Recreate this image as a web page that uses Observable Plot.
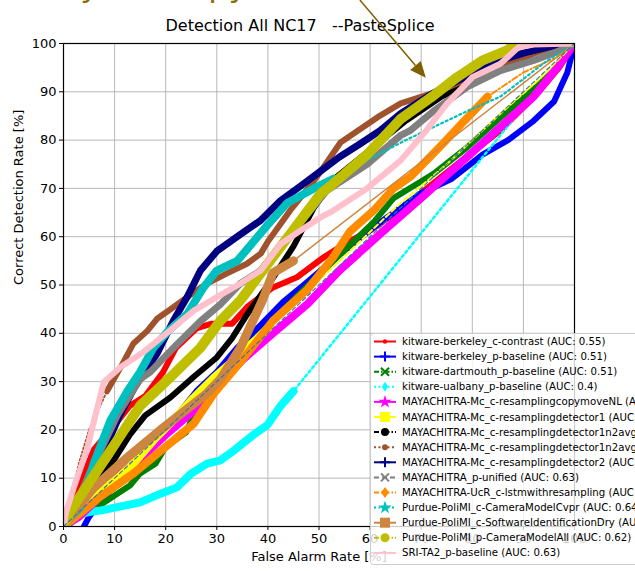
<!DOCTYPE html>
<html><head><meta charset="utf-8">
<script src="https://cdn.jsdelivr.net/npm/d3@7"></script>
<script src="https://cdn.jsdelivr.net/npm/@observablehq/plot@0.6"></script>
<style>
html,body{margin:0;padding:0;background:#fff;}
#chart svg{display:block;}
</style>
</head><body><div id="chart"></div>
<script>
// ---------- data ----------
const xTicks = [0,10,20,30,40,50,60,70,80,90,100];
const yTicks = [0,10,20,30,40,50,60,70,80,90,100];
const titleText = "Detection All NC17   --PasteSplice";
const xLabel = "False Alarm Rate [%]";
const yLabel = "Correct Detection Rate [%]";
const annotationText = "may the copymove detector";
const arrowFrom = [58.1, 108.9];
const arrowTo = [71.0, 92.8];

const seriesLabels = [
  "kitware-berkeley_c-contrast (AUC: 0.55)",
  "kitware-berkeley_p-baseline (AUC: 0.51)",
  "kitware-dartmouth_p-baseline (AUC: 0.51)",
  "kitware-ualbany_p-baseline (AUC: 0.4)",
  "MAYACHITRA-Mc_c-resamplingcopymoveNL (AUC: 0.5)",
  "MAYACHITRA-Mc_c-resamplingdetector1 (AUC: 0.53)",
  "MAYACHITRA-Mc_c-resamplingdetector1n2avg (AUC: 0.6)",
  "MAYACHITRA-Mc_c-resamplingdetector1n2avgfused (AUC: 0.66)",
  "MAYACHITRA-Mc_c-resamplingdetector2 (AUC: 0.66)",
  "MAYACHITRA_p-unified (AUC: 0.63)",
  "MAYACHITRA-UcR_c-lstmwithresampling (AUC: 0.55)",
  "Purdue-PoliMI_c-CameraModelCvpr (AUC: 0.64)",
  "Purdue-PoliMI_c-SoftwareIdentificationDry (AUC: 0.6)",
  "Purdue-PoliMI_p-CameraModelAll (AUC: 0.62)",
  "SRI-TA2_p-baseline (AUC: 0.63)"
];

// [false alarm rate, correct detection rate]
const berkeleyContrast = [[0,0],[2,6],[4,11],[6,16],[8,18.5],[10,21],[13,25],[16,27],[19.5,32],[22,37],[26,41],[29,42],[33,42],[36,45.5],[41,49.5],[45.7,51.6],[51,55.8],[55,58.5],[60,61.3],[65,65],[69,68.2],[77,75],[85.5,82],[93,90],[97,95],[100,100]];
const berkeleyBaseline = [[4,0],[5,2],[8,6],[12,11],[16,15],[20,20],[26,28],[30,32],[34,37],[37,40],[43,46.5],[47,50],[51,53.6],[56,58],[62,63],[70,69],[76,72],[82,77],[87,80],[92,84],[96,88],[98.6,94],[100,100]];
const dartmouthBaseline = [[0,0],[3,2],[8,5],[13,8.5],[15,11],[18,13],[20,16.5],[24,19.5],[25,22],[26,25.5],[28,28],[30,31],[35,36],[40,41.5],[46,48],[53.6,55.8],[60.7,63],[64.6,68],[68.5,70.5],[72.4,73],[79,78.5],[85.5,84.7],[93.3,91.7],[97.3,95.8],[100,100]];
const ualbanyBaseline = [[1,0],[1.5,1.5],[3,2.5],[5,3],[7.2,3.3],[10.5,4],[15,5],[19,6.8],[22.2,8.1],[24.9,10.9],[28.1,13],[30.7,13.7],[33.3,15.7],[37.2,19],[39.9,21],[42.5,25],[45,28],[100,100]];
const copymoveNL = [[0,0],[3,2],[6,5],[10,10],[15,14],[20,19],[25,23.5],[30,29],[35,34.5],[41,40],[47.7,46],[54,53],[62,60.6],[70,68],[79,76.5],[85.5,82.7],[92,89],[96.6,95],[100,100]];
const detector1 = [[0,0],[2,3],[5,6],[10,9.5],[13.7,13],[17.6,17.8],[21.5,22],[25.5,26.7],[29.4,30.8],[33.3,34.4],[36,37],[40,41],[45,46],[55,56],[65,66],[75,75],[85,85],[93,92.5],[100,100]];
const detector1n2avg = [[0,0],[3,4],[6,8],[10,14],[13,19],[16,23],[20.9,26.7],[25.5,31],[30,35],[33,39],[36,44],[41,51.5],[45,58],[49,66],[53,72],[60,78],[67,84],[74,89],[80,92],[87,95.5],[93,98.5],[100,100]];
const detector1n2avgB = [[0,0],[1,4],[3,13],[5,20],[8.5,28],[11.2,33],[13.7,37.9],[16.4,40.5],[18.3,43],[21.5,45.4],[24.2,47.5],[28.1,50.3],[32,52.4],[35.9,54.4],[38.6,56.5],[40,59],[44.4,65.5],[49,71.5],[54.2,79.5],[61.4,84.7],[66,87.6],[73,90],[80,93],[88,96.5],[95,99],[100,100]];
const detector2 = [[0,0],[3,5],[6,11],[8.5,17],[11,23],[14,29],[18.3,35.8],[21.5,42.6],[24.2,47.5],[26.8,53],[30,57],[34,60],[38.6,63.4],[42.5,67.5],[46.4,70.5],[49.6,73],[54,76.5],[58,79.2],[62,82],[66,85.5],[72,89.5],[76,91.7],[84,96],[90,98],[95,99.3],[100,100]];
const unified = [[0,0],[3,6],[6,13],[10.5,23],[15,30.5],[17,32],[22,37.5],[26.8,42.5],[30.7,46],[34.6,50.3],[38.6,53],[42,57.5],[46.4,63],[50.3,68],[51.6,69.6],[59.4,75],[66,81],[67.9,82],[72.4,86],[79,91],[85.5,94.4],[92,96.5],[97.3,98.6],[100,100]];
const lstm = [[0,0],[3,2.5],[7,6],[13.7,11],[20,16.5],[25.5,21.3],[29.4,27.5],[34.6,34],[41,42.6],[47.7,49],[52.8,55.8],[56,61],[60.7,65.4],[64.6,70],[68,72.5],[74,79],[78,83.5],[83,89],[90,94],[96.6,97.2],[100,100]];
const cameraModelCvpr = [[0,0],[1.5,2],[3.3,4],[5.9,13],[9.2,22],[12.5,28],[15,32],[17.6,37],[20.5,40.5],[24.2,44],[27.4,49.5],[30,53],[34,55],[37.2,59],[40,62.5],[43.8,67],[49,70],[52.8,72],[56,74],[67,80],[79,86],[85.5,89],[94.7,96.5],[100,100]];
const softwareIdDry = [[0,0],[2,3],[5.9,8],[12.5,14.3],[19,20],[25.5,25.4],[28,27.5],[30.7,30.5],[34.6,37],[39,47],[41,52.5],[45,55],[100,100]];
const cameraModelAll = [[0,0],[1.4,3.3],[5,9],[10,17],[15,25],[21,31],[26.8,37],[30.7,42.6],[34.6,46.8],[39,53],[46.4,63.4],[50.3,68.9],[52.8,71],[59.4,77],[66,84.4],[72.4,89.2],[77,93],[82,96.5],[86.8,98.6],[88,99.5],[100,100]];
const sriBaseline = [[0,0],[0.5,3],[2,8],[4.6,16],[6,22],[7.9,29.9],[11.2,33],[15.5,36],[20.5,40.3],[25.5,44.7],[30,47.5],[34.6,50.3],[38.6,53],[42.5,58.5],[46.4,61.3],[50.3,64],[52.8,65.4],[59.4,70],[66,75.8],[71,82],[75,87.5],[80,93],[85.5,95.8],[89,99.2],[92,99.8],[100,100]];
const diagonal = [[0,0],[100,100]];

const seriesData = [berkeleyContrast, berkeleyBaseline, dartmouthBaseline, ualbanyBaseline, copymoveNL, detector1, detector1n2avg, detector1n2avgB, detector2, unified, lstm, cameraModelCvpr, softwareIdDry, cameraModelAll, sriBaseline];

// ---------- styles ----------
const styles = [
  {color:"#ff0000", w:6, thick:[0,100], thin:null, legendDash:null, marker:"dot"},
  {color:"#0000ff", w:6, thick:[0,100], thin:null, legendDash:null, marker:"plus"},
  {color:"#008000", w:6, thick:[0,100], thin:null, legendDash:"5,2,1.5,2", marker:"x"},
  {color:"#00ffff", w:8, thick:[0,45], thin:{w:2.5, dash:"2.5,3"}, legendDash:"2,2.5", marker:"thindiamond"},
  {color:"#ff00ff", w:8, thick:[0,100], thin:null, legendDash:null, marker:"star"},
  {color:"#ffff00", w:8, thick:[0,40], thin:{w:2, dash:"5,3"}, legendDash:null, marker:"square"},
  {color:"#000000", w:6, thick:[0,100], thin:null, legendDash:"5,2,1.5,2", marker:"circle"},
  {color:"#a0522d", w:6, thick:[8.5,100], thin:{w:2, dash:"1.5,2.5"}, legendDash:"2,2.5", marker:"smallcircle"},
  {color:"#000080", w:7, thick:[0,100], thin:null, legendDash:null, marker:"plus"},
  {color:"#808080", w:7, thick:[0,100], thin:null, legendDash:"5,3", marker:"x"},
  {color:"#ff8c00", w:8, thick:[0,83], thin:{w:2, dash:"6,2.5,1.5,2.5"}, legendDash:"5,2,1.5,2", marker:"diamond"},
  {color:"#00bfbf", w:8, thick:[0,52.8], thin:{w:2.2, dash:"2,3"}, legendDash:"2,2.5", marker:"star"},
  {color:"#cd853f", w:9, thick:[0,45], thin:{w:1.5, dash:null}, legendDash:null, marker:"square"},
  {color:"#bfbf00", w:10, thick:[0,88], thin:{w:1.5, dash:null}, legendDash:"5,2,1.5,2", marker:"hexagon"},
  {color:"#ffc0cb", w:6, thick:[0,100], thin:null, legendDash:null, marker:"none"}
];

const toRows = arr => arr.map(([x, y]) => ({x, y}));

const seriesMarks = [];
seriesData.forEach((arr, i) => {
  const s = styles[i];
  const rows = toRows(arr);
  if (s.thin) {
    seriesMarks.push(Plot.line(rows, {x:"x", y:"y", stroke:s.color, strokeWidth:s.thin.w,
      strokeDasharray:s.thin.dash || undefined, clip:true}));
  }
  const thickRows = rows.filter(d => d.x >= s.thick[0] && d.x <= s.thick[1]);
  seriesMarks.push(Plot.line(thickRows, {x:"x", y:"y", stroke:s.color, strokeWidth:s.w,
    strokeLinejoin:"round", strokeLinecap:"round", clip:true}));
});

const chart = Plot.plot({
  width: 635, height: 571,
  marginLeft: 63, marginRight: 61, marginTop: 43, marginBottom: 45,
  x: {domain: [0, 100]},
  y: {domain: [0, 100]},
  style: {fontFamily: "DejaVu Sans", fontSize: "13px", color: "black", background: "white", overflow: "hidden"},
  marks: [
    Plot.gridX({ticks: xTicks, stroke: "#b0b0b0", strokeOpacity: 1, strokeWidth: 0.9}),
    Plot.gridY({ticks: yTicks, stroke: "#b0b0b0", strokeOpacity: 1, strokeWidth: 0.9}),
    ...seriesMarks,
    Plot.line(toRows(diagonal), {x:"x", y:"y", stroke:"#3b75af", strokeWidth:1.2, strokeDasharray:"4,3", clip:true}),
    Plot.frame({stroke: "black", strokeWidth: 1.2}),
    Plot.axisX({ticks: xTicks, tickSize: 4, tickPadding: 3, label: null, fontSize: 13}),
    Plot.axisY({ticks: yTicks, tickSize: 4, tickPadding: 3, label: null, fontSize: 13}),
    Plot.text([titleText], {frameAnchor: "top", dx: -19, dy: -24, fontSize: 16, text: d => d}),
    Plot.text([xLabel], {frameAnchor: "bottom", dy: 34, fontSize: 13, text: d => d}),
    Plot.text([yLabel], {frameAnchor: "left", dx: -45, rotate: -90, fontSize: 13, text: d => d})
  ]
});

document.getElementById("chart").appendChild(chart);

// ---------- annotation (arrow + text clipped at the top edge) ----------
const svg = d3.select(chart);
const sx = chart.scale("x"), sy = chart.scale("y");
const ax1 = sx.apply(arrowFrom[0]), ay1 = sy.apply(arrowFrom[1]);
const ax2 = sx.apply(arrowTo[0]), ay2 = sy.apply(arrowTo[1]);
const ang = Math.atan2(ay2 - ay1, ax2 - ax1);
const headL = 16, headW = 7;
const bx = ax2 - headL * Math.cos(ang), by = ay2 - headL * Math.sin(ang);
const ann = svg.append("g");
ann.append("line").attr("x1", ax1).attr("y1", ay1).attr("x2", bx).attr("y2", by)
  .attr("stroke", "#7f6000").attr("stroke-width", 1.5);
ann.append("polygon").attr("points", [
  [ax2, ay2],
  [bx + headW * Math.sin(ang), by - headW * Math.cos(ang)],
  [bx - headW * Math.sin(ang), by + headW * Math.cos(ang)]
].map(p => p.join(",")).join(" ")).attr("fill", "#7f6000");
ann.append("text").attr("x", 30).attr("y", -3).attr("font-size", 30)
  .attr("text-anchor", "start")
  .attr("font-family", "DejaVu Sans").attr("fill", "#8a6d10")
  .attr("textLength", 450).attr("lengthAdjust", "spacingAndGlyphs").text(annotationText);

// ---------- legend ----------
const lg = svg.append("g").attr("font-family", "DejaVu Sans").attr("font-size", 10.2)
  .attr("text-anchor", "start");
lg.append("rect").attr("x", 370.5).attr("y", 333.5).attr("width", 300).attr("height", 231)
  .attr("rx", 3).attr("fill", "white").attr("fill-opacity", 0.8).attr("stroke", "#cccccc");
const markerPath = (g, type, color) => {
  const stroke = (d) => g.append("path").attr("d", d).attr("stroke", color).attr("stroke-width", 2).attr("fill", "none");
  const fill = (d) => g.append("path").attr("d", d).attr("fill", color);
  switch (type) {
    case "dot": g.append("circle").attr("r", 2.2).attr("fill", color); break;
    case "plus": stroke("M-5,0H5M0,-5V5"); break;
    case "x": stroke("M-4,-4L4,4M-4,4L4,-4"); break;
    case "thindiamond": fill("M0,-5L3,0L0,5L-3,0Z"); break;
    case "diamond": fill("M0,-5.5L4,0L0,5.5L-4,0Z"); break;
    case "star": fill(d3.symbol(d3.symbolStar, 55)()); break;
    case "square": g.append("rect").attr("x", -5).attr("y", -5).attr("width", 10).attr("height", 10).attr("fill", color); break;
    case "circle": g.append("circle").attr("r", 4).attr("fill", color); break;
    case "smallcircle": g.append("circle").attr("r", 3).attr("fill", color); break;
    case "hexagon": g.append("circle").attr("r", 4.5).attr("fill", color); break;
    default: break;
  }
};
seriesLabels.forEach((label, i) => {
  const s = styles[i];
  const yc = 341.5 + i * 15.1;
  const e = lg.append("g").attr("transform", `translate(0,${yc})`);
  e.append("line").attr("x1", 374).attr("x2", 396).attr("stroke", s.color).attr("stroke-width", 2)
    .attr("stroke-dasharray", s.legendDash);
  const m = e.append("g").attr("transform", "translate(385,0)");
  markerPath(m, s.marker, s.color);
  e.append("text").attr("x", 402).attr("dy", "0.35em").attr("fill", "black")
    .attr("text-anchor", "start").text(label);
});
</script>
</body></html>
